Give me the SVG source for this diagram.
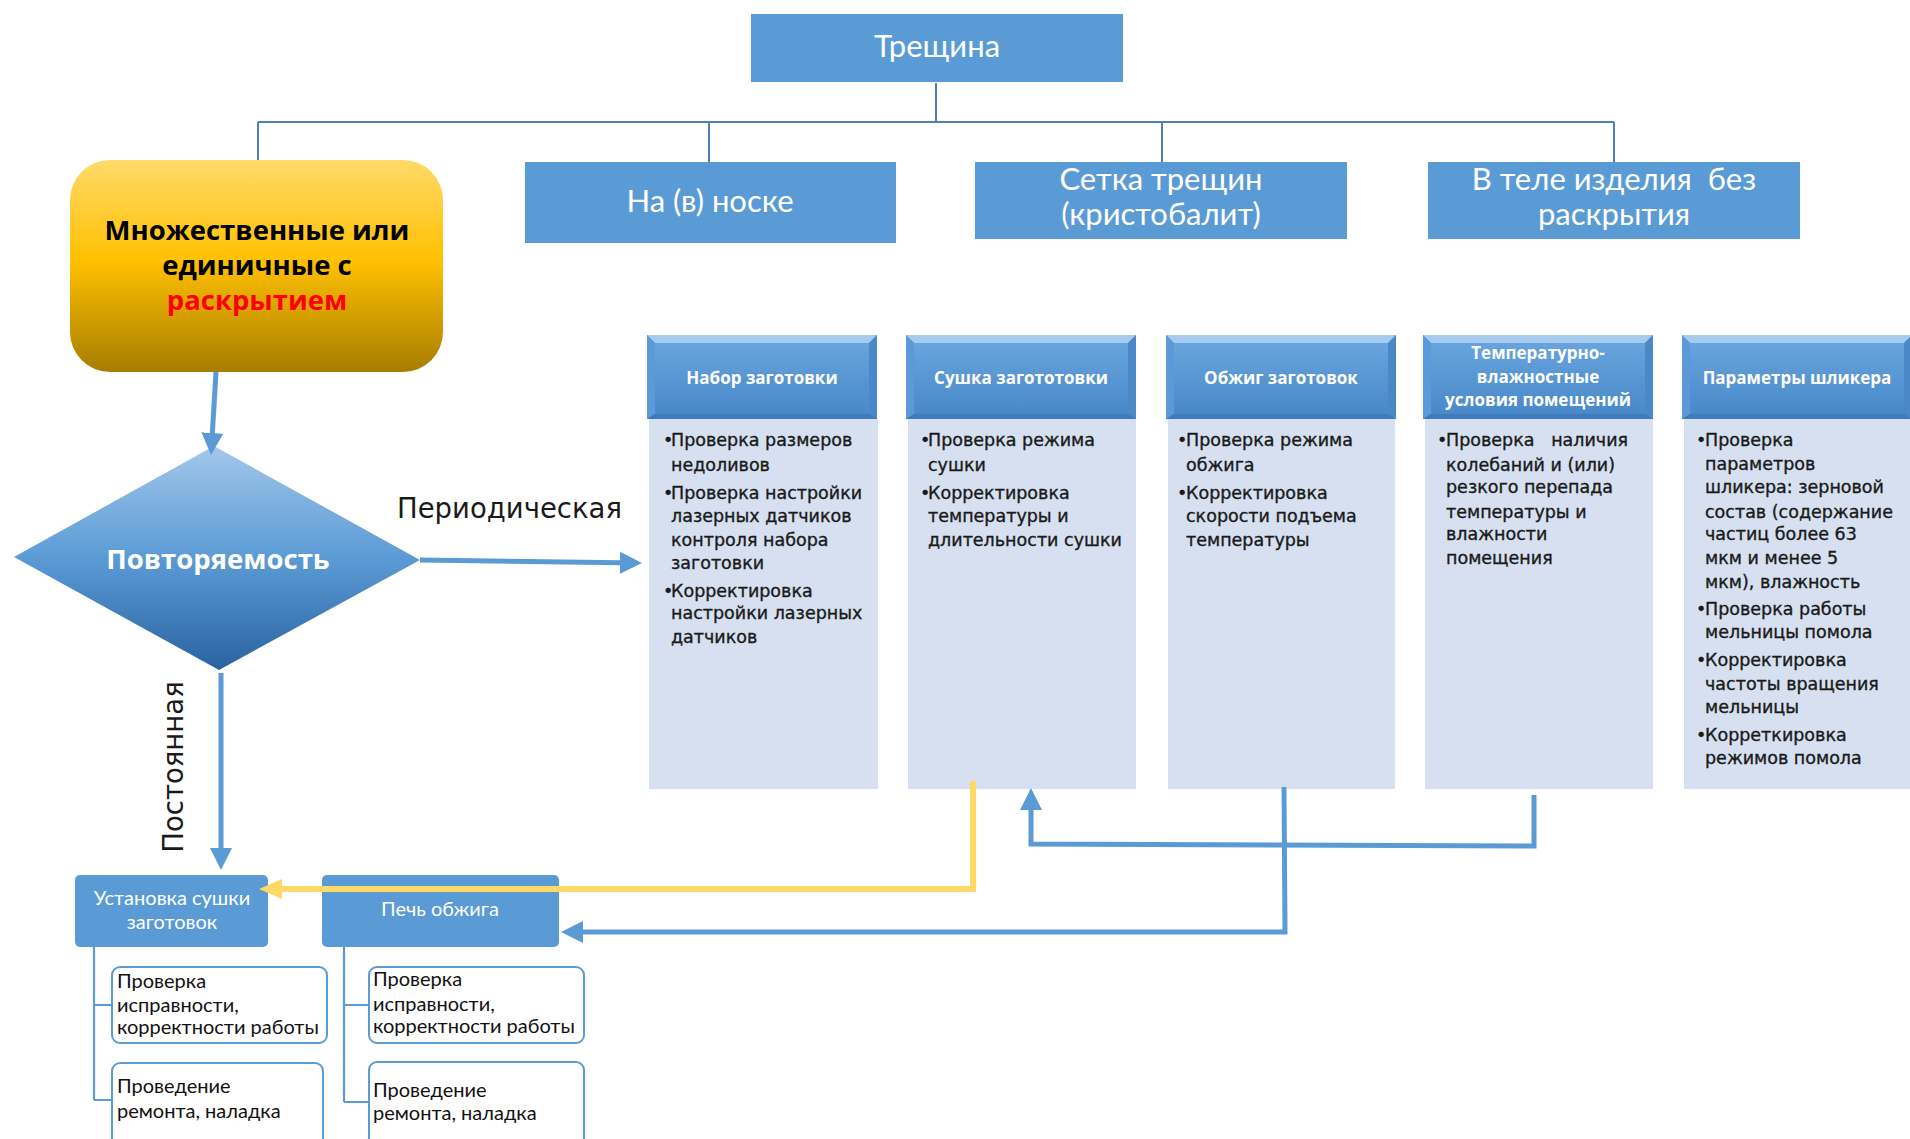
<svg xmlns="http://www.w3.org/2000/svg" xmlns:xlink="http://www.w3.org/1999/xlink" width="1910" height="1139" viewBox="0 0 1910 1139">
  <style>
    .box{fill:#5B9BD5}
    .big{font-family:Lato,"Open Sans",sans-serif;font-size:31px;fill:#fff;text-anchor:middle}
    .hdr{font-family:"Open Sans",sans-serif;font-weight:700;font-size:17px;fill:#fff;text-anchor:middle}
    .body{fill:#D6E0F0}
    .bt{font-family:"DejaVu Sans",sans-serif;font-size:17.5px;fill:#1a1a1a;stroke:#1a1a1a;stroke-width:0.35}
    .eq{fill:#5B9BD5}
    .eqt{font-family:Lato,sans-serif;font-size:20px;fill:#fff;text-anchor:middle}
    .sub{fill:#fff;stroke:#5B9BD5;stroke-width:2}
    .st{font-family:Lato,sans-serif;font-size:20px;fill:#111}
    .thin{fill:none;stroke:#4F7FB5;stroke-width:2}
    .tree{fill:none;stroke:#5B9BD5;stroke-width:2.2}
    .flow{fill:none;stroke:#5B9BD5;stroke-width:5}
    .gold{fill:none;stroke:#FFD966;stroke-width:6}
    .lab{font-family:"DejaVu Sans",sans-serif;font-size:27.5px;fill:#1a1a1a}
  </style>
  <defs>
    <linearGradient id="gYellow" x1="0" y1="0" x2="0" y2="1">
      <stop offset="0" stop-color="#FFDA6A"/>
      <stop offset="0.48" stop-color="#FFC000"/>
      <stop offset="1" stop-color="#A67D00"/>
    </linearGradient>
    <linearGradient id="gDiamond" x1="0" y1="0" x2="0" y2="1">
      <stop offset="0" stop-color="#A3C7EA"/>
      <stop offset="0.5" stop-color="#5B9BD5"/>
      <stop offset="1" stop-color="#2A63A0"/>
    </linearGradient>
    <linearGradient id="gHdr" x1="0" y1="0" x2="0" y2="1">
      <stop offset="0" stop-color="#6BA7DF"/>
      <stop offset="1" stop-color="#4787C8"/>
    </linearGradient>
    <!-- bevelled column header -->
    <g id="hd">
      <rect width="230" height="84" fill="url(#gHdr)"/>
      <polygon points="0,0 230,0 222,8 8,8" fill="#A6CBEE"/>
      <polygon points="0,0 8,8 8,79 0,84" fill="#5D99D8"/>
      <polygon points="230,0 222,8 222,79 230,84" fill="#4A88C8"/>
      <polygon points="0,84 8,79 222,79 230,84" fill="#3F7BBB"/>
    </g>
    <marker id="ah" markerUnits="userSpaceOnUse" markerWidth="22" markerHeight="22" viewBox="0 0 22 22" refX="1" refY="11" orient="auto">
      <path d="M0,0 L22,11 L0,22 z" fill="#5B9BD5"/>
    </marker>
    <marker id="ahGold" markerUnits="userSpaceOnUse" markerWidth="23" markerHeight="20" viewBox="0 0 23 20" refX="1" refY="10" orient="auto">
      <path d="M0,0 L23,10 L0,20 z" fill="#FFD966"/>
    </marker>
  </defs>

  <!-- thin tree lines from the root -->
  <g id="tree-connectors">
    <path class="thin" d="M936,83 V122 M258,122 H1614 M258,122 V160 M709,122 V162 M1162,122 V162 M1614,122 V162"/>
  </g>

  <g id="root">
    <rect class="box" x="751" y="14" width="372" height="68"/>
    <text class="big" x="937" y="57">Трещина</text>
  </g>

  <g id="open-crack">
    <rect x="70" y="160" width="373" height="212" rx="40" fill="url(#gYellow)"/>
    <text font-family="'Open Sans',sans-serif" font-weight="700" font-size="27.5" text-anchor="middle" x="257" y="240" fill="#000">Множественные или</text>
    <text font-family="'Open Sans',sans-serif" font-weight="700" font-size="27.5" text-anchor="middle" x="257" y="275" fill="#000">единичные с</text>
    <text font-family="'Open Sans',sans-serif" font-weight="700" font-size="27.5" text-anchor="middle" x="257" y="310" fill="#FF0000">раскрытием</text>
  </g>

  <g id="nose">
    <rect class="box" x="525" y="162" width="371" height="81"/>
    <text class="big" x="710" y="212">На (в) носке</text>
  </g>

  <g id="cristobalite">
    <rect class="box" x="975" y="162" width="372" height="77"/>
    <text class="big" x="1161" y="190">Сетка трещин</text>
    <text class="big" x="1161" y="225">(кристобалит)</text>
  </g>

  <g id="body-crack">
    <rect class="box" x="1428" y="162" width="372" height="77"/>
    <text class="big" x="1614" y="190" xml:space="preserve">В теле изделия  без</text>
    <text class="big" x="1614" y="225">раскрытия</text>
  </g>

  <g id="repeatability">
    <polygon points="14,557 214,446 420,560 219,670" fill="url(#gDiamond)"/>
    <text font-family="'Open Sans',sans-serif" font-weight="700" font-size="27.5" text-anchor="middle" x="218" y="569" fill="#fff">Повторяемость</text>
  </g>

  <!-- process columns -->
  <g id="col-forming">
    <rect class="body" x="649" y="419" width="229" height="370"/>
    <use xlink:href="#hd" x="647" y="335"/>
    <text class="hdr" x="762" y="384">Набор заготовки</text>
    <text class="bt">
      <tspan x="663" y="446">•</tspan><tspan x="671" y="446">Проверка размеров</tspan>
      <tspan x="671" y="471">недоливов</tspan>
      <tspan x="663" y="499">•</tspan><tspan x="671" y="499">Проверка настройки</tspan>
      <tspan x="671" y="522">лазерных датчиков</tspan>
      <tspan x="671" y="546">контроля набора</tspan>
      <tspan x="671" y="569">заготовки</tspan>
      <tspan x="663" y="597">•</tspan><tspan x="671" y="597">Корректировка</tspan>
      <tspan x="671" y="619">настройки лазерных</tspan>
      <tspan x="671" y="643">датчиков</tspan>
    </text>
  </g>

  <g id="col-drying">
    <rect class="body" x="908" y="419" width="228" height="370"/>
    <use xlink:href="#hd" x="906" y="335"/>
    <text class="hdr" x="1021" y="384">Сушка загототовки</text>
    <text class="bt">
      <tspan x="920" y="446">•</tspan><tspan x="928" y="446">Проверка режима</tspan>
      <tspan x="928" y="471">сушки</tspan>
      <tspan x="920" y="499">•</tspan><tspan x="928" y="499">Корректировка</tspan>
      <tspan x="928" y="522">температуры и</tspan>
      <tspan x="928" y="546">длительности сушки</tspan>
    </text>
  </g>

  <g id="col-firing">
    <rect class="body" x="1168" y="419" width="227" height="370"/>
    <use xlink:href="#hd" x="1166" y="335"/>
    <text class="hdr" x="1281" y="384">Обжиг заготовок</text>
    <text class="bt">
      <tspan x="1177" y="446">•</tspan><tspan x="1186" y="446">Проверка режима</tspan>
      <tspan x="1186" y="471">обжига</tspan>
      <tspan x="1177" y="499">•</tspan><tspan x="1186" y="499">Корректировка</tspan>
      <tspan x="1186" y="522">скорости подъема</tspan>
      <tspan x="1186" y="546">температуры</tspan>
    </text>
  </g>

  <g id="col-climate">
    <rect class="body" x="1425" y="419" width="228" height="370"/>
    <use xlink:href="#hd" x="1423" y="335"/>
    <text class="hdr" x="1538" y="359">Температурно-</text>
    <text class="hdr" x="1538" y="383">влажностные</text>
    <text class="hdr" x="1538" y="406">условия помещений</text>
    <text class="bt">
      <tspan x="1437" y="446">•</tspan><tspan x="1446" y="446" xml:space="preserve">Проверка   наличия</tspan>
      <tspan x="1446" y="471">колебаний и (или)</tspan>
      <tspan x="1446" y="493">резкого перепада</tspan>
      <tspan x="1446" y="518">температуры и</tspan>
      <tspan x="1446" y="540">влажности</tspan>
      <tspan x="1446" y="564">помещения</tspan>
    </text>
  </g>

  <g id="col-slip">
    <rect class="body" x="1684" y="419" width="228" height="370"/>
    <use xlink:href="#hd" x="1682" y="335"/>
    <text class="hdr" x="1797" y="384">Параметры шликера</text>
    <text class="bt">
      <tspan x="1696" y="446">•</tspan><tspan x="1705" y="446">Проверка</tspan>
      <tspan x="1705" y="470">параметров</tspan>
      <tspan x="1705" y="493">шликера: зерновой</tspan>
      <tspan x="1705" y="518">состав (содержание</tspan>
      <tspan x="1705" y="540">частиц более 63</tspan>
      <tspan x="1705" y="564">мкм и менее 5</tspan>
      <tspan x="1705" y="588">мкм), влажность</tspan>
      <tspan x="1696" y="615">•</tspan><tspan x="1705" y="615">Проверка работы</tspan>
      <tspan x="1705" y="638">мельницы помола</tspan>
      <tspan x="1696" y="666">•</tspan><tspan x="1705" y="666">Корректировка</tspan>
      <tspan x="1705" y="690">частоты вращения</tspan>
      <tspan x="1705" y="713">мельницы</tspan>
      <tspan x="1696" y="741">•</tspan><tspan x="1705" y="741">Корреткировка</tspan>
      <tspan x="1705" y="764">режимов помола</tspan>
    </text>
  </g>

  <!-- equipment -->
  <g id="dryer">
    <rect class="eq" x="75" y="875" width="193" height="72" rx="5"/>
    <text class="eqt" x="172" y="905">Установка сушки</text>
    <text class="eqt" x="172" y="929">заготовок</text>
  </g>
  <g id="kiln">
    <rect class="eq" x="322" y="875" width="237" height="72" rx="5"/>
    <text class="eqt" x="440" y="916">Печь обжига</text>
  </g>

  <g id="dryer-check">
    <rect class="sub" x="112" y="967" width="215" height="76" rx="8"/>
    <text class="st"><tspan x="117" y="988">Проверка</tspan><tspan x="117" y="1012">исправности,</tspan><tspan x="117" y="1034">корректности работы</tspan></text>
  </g>
  <g id="dryer-repair">
    <rect class="sub" x="112" y="1063" width="211" height="90" rx="8"/>
    <text class="st"><tspan x="117" y="1093">Проведение</tspan><tspan x="117" y="1118">ремонта, наладка</tspan></text>
  </g>
  <g id="kiln-check">
    <rect class="sub" x="369" y="967" width="215" height="76" rx="8"/>
    <text class="st"><tspan x="373" y="986">Проверка</tspan><tspan x="373" y="1011">исправности,</tspan><tspan x="373" y="1033">корректности работы</tspan></text>
  </g>
  <g id="kiln-repair">
    <rect class="sub" x="369" y="1062" width="215" height="90" rx="8"/>
    <text class="st"><tspan x="373" y="1097">Проведение</tspan><tspan x="373" y="1120">ремонта, наладка</tspan></text>
  </g>

  <!-- flow connectors -->
  <g id="connectors">
    <path class="tree" d="M94,947 V1100 M94,1005 H112 M94,1100 H112"/>
    <path class="tree" d="M344,947 V1102 M344,1005 H369 M344,1102 H369"/>
    <path class="flow" d="M216,372 L212.3,434" marker-end="url(#ah)"/>
    <path class="flow" d="M420,560 L621,562.8" marker-end="url(#ah)"/>
    <path class="flow" d="M221,673 V849" marker-end="url(#ah)"/>
    <path class="flow" d="M1534,795 V846 L1031,844 V809" marker-end="url(#ah)"/>
    <path class="flow" d="M1284,787 L1285,932 H582" marker-end="url(#ah)"/>
    <path class="gold" d="M973,781 V889 H281" marker-end="url(#ahGold)"/>
    <text class="lab" x="397" y="518">Периодическая</text>
    <text class="lab" text-anchor="middle" transform="translate(183,767) rotate(-90)">Постоянная</text>
  </g>
</svg>
